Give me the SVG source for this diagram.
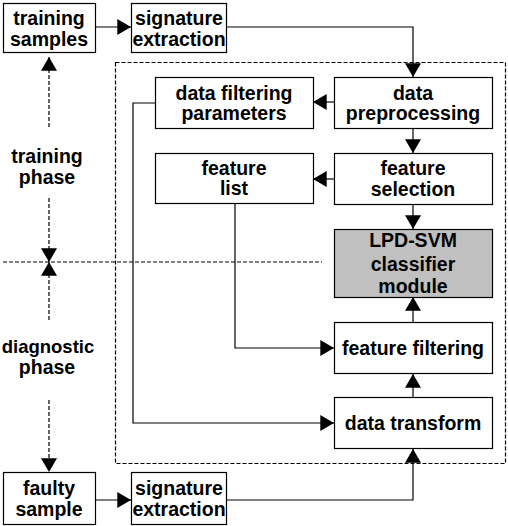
<svg xmlns="http://www.w3.org/2000/svg" width="508" height="526" viewBox="0 0 508 526">
<style>
.box{fill:#fff;stroke:#000;stroke-width:1.2}
.gray{fill:#c0c0c0;stroke:#000;stroke-width:1.2}
.t{font-family:"Liberation Sans",Arial,sans-serif;font-weight:bold;font-size:19.5px;fill:#000;text-anchor:middle}
.c{fill:none;stroke:#000;stroke-width:1.2}
.d{fill:none;stroke:#000;stroke-width:1.2;stroke-dasharray:4 2}
</style>
<defs>
<marker id="ah" markerUnits="userSpaceOnUse" markerWidth="14" markerHeight="16" viewBox="0 0 12 14" refX="12" refY="7" orient="auto">
<path d="M0,0 L12,7 L0,14 Z" fill="#000"/>
</marker>
</defs>
<rect class="d" x="115.5" y="62.5" width="390" height="401"/>
<line class="d" x1="3" y1="262" x2="322" y2="262"/>
<g id="connectors">
<path class="c" d="M95,27 H131" marker-end="url(#ah)"/>
<path class="c" d="M226,27 H413 V77" marker-end="url(#ah)"/>
<path class="c" d="M334,102 H313" marker-end="url(#ah)"/>
<path class="c" d="M155,103 H133 V423 H334" marker-end="url(#ah)"/>
<path class="c" d="M413,128 V153" marker-end="url(#ah)"/>
<path class="c" d="M334,179 H313" marker-end="url(#ah)"/>
<path class="c" d="M413,205 V229" marker-end="url(#ah)"/>
<path class="c" d="M235,204 V348 H334" marker-end="url(#ah)"/>
<path class="c" d="M413,322 V297" marker-end="url(#ah)"/>
<path class="c" d="M413,398 V374" marker-end="url(#ah)"/>
<path class="c" d="M95,500 H131" marker-end="url(#ah)"/>
<path class="c" d="M226,500 H413 V449" marker-end="url(#ah)"/>
<path class="d" d="M49,127 V57" marker-end="url(#ah)"/>
<path class="d" d="M49,198 V262" marker-end="url(#ah)"/>
<path class="d" d="M49,320 V262" marker-end="url(#ah)"/>
<path class="d" d="M49,400 V472" marker-end="url(#ah)"/>
</g>
<g id="training-samples"><rect class="box" x="3.5" y="3.5" width="92" height="49"/><text class="t" x="49" y="25">training</text><text class="t" x="49" y="46">samples</text></g>
<g id="sig-extraction-top"><rect class="box" x="131.5" y="3.5" width="95" height="49"/><text class="t" x="179" y="25">signature</text><text class="t" x="179" y="46">extraction</text></g>
<g id="data-filtering-parameters"><rect class="box" x="155.5" y="77.5" width="158" height="51"/><text class="t" x="234" y="100">data filtering</text><text class="t" x="234" y="120">parameters</text></g>
<g id="data-preprocessing"><rect class="box" x="334.5" y="77.5" width="158" height="51"/><text class="t" x="413" y="100">data</text><text class="t" x="413" y="120">preprocessing</text></g>
<g id="feature-list"><rect class="box" x="155.5" y="153.5" width="158" height="50"/><text class="t" x="234" y="175">feature</text><text class="t" x="234" y="195">list</text></g>
<g id="feature-selection"><rect class="box" x="334.5" y="153.5" width="158" height="51"/><text class="t" x="413" y="175">feature</text><text class="t" x="413" y="196">selection</text></g>
<g id="lpd-svm"><rect class="gray" x="334.5" y="229.5" width="158" height="68"/><text class="t" x="413" y="247">LPD-SVM</text><text class="t" x="413" y="271">classifier</text><text class="t" x="413" y="293">module</text></g>
<g id="feature-filtering"><rect class="box" x="334.5" y="322.5" width="158" height="51"/><text class="t" x="413" y="355">feature filtering</text></g>
<g id="data-transform"><rect class="box" x="334.5" y="397.5" width="158" height="51"/><text class="t" x="413" y="430">data transform</text></g>
<g id="faulty-sample"><rect class="box" x="3.5" y="472.5" width="92" height="52"/><text class="t" x="49" y="495">faulty</text><text class="t" x="49" y="516">sample</text></g>
<g id="sig-extraction-bottom"><rect class="box" x="131.5" y="472.5" width="95" height="52"/><text class="t" x="179" y="495">signature</text><text class="t" x="179" y="516">extraction</text></g>
<g id="training-phase"><text class="t" x="47" y="163">training</text><text class="t" x="47" y="184">phase</text></g>
<g id="diagnostic-phase"><text class="t" x="48" y="353" style="font-size:18.5px">diagnostic</text><text class="t" x="47" y="374">phase</text></g>
</svg>
